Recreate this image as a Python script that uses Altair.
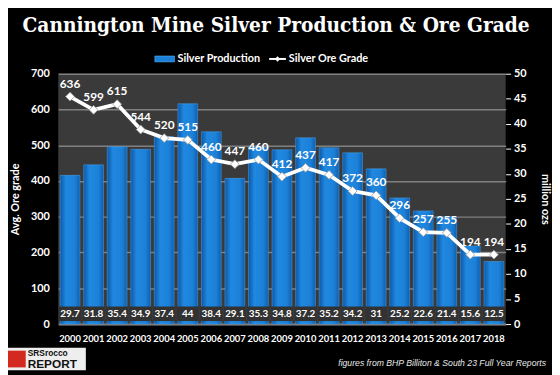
import altair as alt
import pandas as pd

years = [str(y) for y in range(2000, 2019)]
production = [29.7, 31.8, 35.4, 34.9, 37.4, 44, 38.4, 29.1, 35.3, 34.8, 37.2, 35.2, 34.2, 31, 25.2, 22.6, 21.4, 15.6, 12.5]
ore_grade = [636, 599, 615, 544, 520, 515, 460, 447, 460, 412, 437, 417, 372, 360, 296, 257, 255, 194, 194]

df = pd.DataFrame({"year": years, "prod": production, "grade": ore_grade})
df["band_lo"] = 0.6
df["band_hi"] = 3.5
df["band_mid"] = 2.05

FONT = "Lato"
W, H = 454, 254

xenc = alt.X("year:O", title=None, scale=alt.Scale(paddingInner=0.16, paddingOuter=0.08),
             axis=alt.Axis(labelAngle=0, labelFontSize=9.5, labelFontWeight="bold", labelColor="white",
                           labelFont=FONT, ticks=False, domain=True, domainColor="#777", domainWidth=2,
                           labelPadding=10))

base = alt.Chart(df)

grad = alt.Gradient(gradient="linear", x1=0, x2=1, y1=0, y2=0,
                    stops=[alt.GradientStop(color="#0d58a6", offset=0),
                           alt.GradientStop(color="#2088e0", offset=0.3),
                           alt.GradientStop(color="#1c80d8", offset=0.75),
                           alt.GradientStop(color="#0f5fae", offset=1)])

grid = base.mark_rule(opacity=0).encode(
    y=alt.Y("grade:Q", scale=alt.Scale(domain=[0, 700]),
            axis=alt.Axis(orient="left", values=list(range(0, 701, 100)), grid=True, gridColor="#808080",
                          gridWidth=1.5, domain=False, ticks=False, labelFontSize=11, labelFontWeight="bold",
                          labelColor="white", labelFont=FONT, labelPadding=9, title="Avg. Ore grade",
                          titleColor="white", titleFont=FONT, titleFontSize=11, titleFontWeight="bold",
                          titlePadding=10)),
)

bars = base.mark_bar(color=grad, stroke="#4aa6f0", strokeWidth=0.5).encode(
    x=xenc,
    y=alt.Y("prod:Q", scale=alt.Scale(domain=[0, 50]),
            axis=alt.Axis(orient="right", values=list(range(0, 51, 5)), grid=False, domain=False,
                          ticks=True, tickColor="white", tickSize=5, tickWidth=1,
                          labelFontSize=11, labelFontWeight="bold", labelColor="white", labelFont=FONT,
                          labelPadding=3, title="million ozs", titleColor="white", titleFont=FONT,
                          titleFontSize=11, titleFontWeight="bold", titlePadding=14)),
)

band = base.mark_bar(color="#323232", width={"band": 1.12}).encode(
    x=alt.X("year:O"),
    y=alt.Y("band_lo:Q", scale=alt.Scale(domain=[0, 50]), axis=None),
    y2="band_hi:Q",
)
band_text = base.mark_text(color="white", font=FONT, fontWeight="bold", fontSize=10, baseline="middle").encode(
    x=alt.X("year:O"),
    y=alt.Y("band_mid:Q", scale=alt.Scale(domain=[0, 50]), axis=None),
    text=alt.Text("prod:Q"),
)

line = base.mark_line(color="white", strokeWidth=3.8).encode(
    x=alt.X("year:O"),
    y=alt.Y("grade:Q", scale=alt.Scale(domain=[0, 700]), axis=None),
)
pts = base.mark_point(shape="diamond", filled=True, fill="white", stroke="#999", strokeWidth=0.8, size=80, opacity=1).encode(
    x=alt.X("year:O"),
    y=alt.Y("grade:Q", scale=alt.Scale(domain=[0, 700]), axis=None),
)
pt_text = base.mark_text(color="white", font=FONT, fontWeight="bold", fontSize=12, dy=-13).encode(
    x=alt.X("year:O"),
    y=alt.Y("grade:Q", scale=alt.Scale(domain=[0, 700]), axis=None),
    text="grade:Q",
)

one = alt.Chart(pd.DataFrame({"a": [0]}))

# legend
leg_rect = one.mark_rect(color="#1a80d8", stroke="#6cc0ff", strokeWidth=0.5).encode(
    x=alt.value(98), x2=alt.value(118), y=alt.value(-18), y2=alt.value(-12))
leg_t1 = one.mark_text(text="Silver Production", color="white", font=FONT, fontSize=11, fontWeight="bold",
                       align="left", baseline="middle").encode(x=alt.value(121), y=alt.value(-15))
leg_line = one.mark_rule(color="white", strokeWidth=2).encode(
    x=alt.value(214), x2=alt.value(231), y=alt.value(-15))
leg_pt = one.mark_point(shape="diamond", filled=True, fill="white", size=30, opacity=1).encode(
    x=alt.value(222.5), y=alt.value(-15))
leg_t2 = one.mark_text(text="Silver Ore Grade", color="white", font=FONT, fontSize=11, fontWeight="bold",
                       align="left", baseline="middle").encode(x=alt.value(234), y=alt.value(-15))

# footer & logo
footer = one.mark_text(text="figures from BHP Billiton & South 23 Full Year Reports", color="#e8e8e8",
                       font="Liberation Sans", fontStyle="italic", fontSize=8.8, align="right",
                       baseline="alphabetic").encode(x=alt.value(495), y=alt.value(297))
logo_bg = one.mark_rect(color="#eeeeee").encode(
    x=alt.value(-55), x2=alt.value(28), y=alt.value(278), y2=alt.value(301))
logo_icon = one.mark_rect(color="#d22a1e").encode(
    x=alt.value(-53), x2=alt.value(-33), y=alt.value(281), y2=alt.value(298))
logo_t1 = one.mark_text(text="SRSrocco", color="#111", font="Liberation Sans", fontWeight="bold",
                        fontSize=8.5, align="left", baseline="alphabetic").encode(x=alt.value(-31), y=alt.value(286))
logo_t2 = one.mark_text(text="REPORT", color="#111", font="Liberation Sans", fontWeight="bold",
                        fontSize=12, align="left", baseline="alphabetic").encode(x=alt.value(-31), y=alt.value(299))

chart = alt.layer(
    grid, bars, band, band_text, line, pts, pt_text,
    leg_rect, leg_t1, leg_line, leg_pt, leg_t2, footer, logo_bg, logo_icon, logo_t1, logo_t2,
).resolve_scale(y="independent").properties(
    width=W, height=H,
    autosize=alt.AutoSizeParams(type="none"),
    padding={"left": 51, "top": 64, "right": 47, "bottom": 49},
    title=alt.TitleParams("Cannington Mine Silver Production & Ore Grade", font="DejaVu Serif Condensed",
                          fontSize=21, fontWeight="bold", color="white", anchor="middle", offset=17, dx=-6),
    background="black",
).configure_view(fill="#3a3a3a", stroke=None)

chart.save("out.html", embed_options={"renderer": "svg", "actions": False})
